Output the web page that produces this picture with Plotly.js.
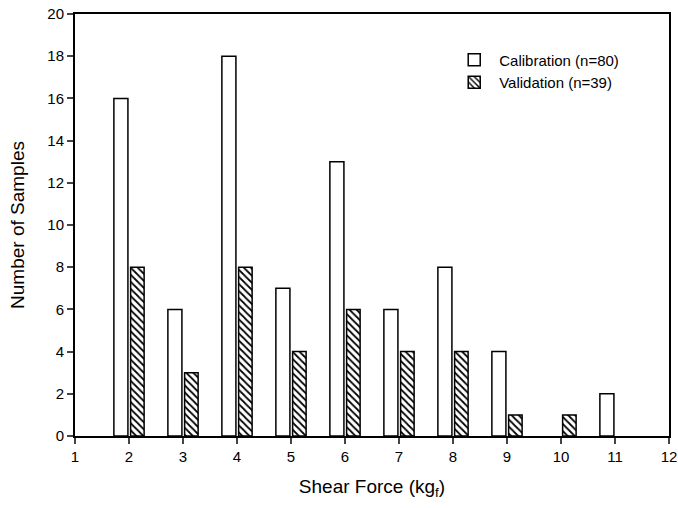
<!DOCTYPE html>
<html><head><meta charset="utf-8">
<script src="https://cdn.plot.ly/plotly-3.0.1.min.js"></script>
<style>body{margin:0;background:#fff}#c{width:678px;height:508px}</style>
</head><body><div id="c"></div>
<script>
const shearForce = [2, 3, 4, 5, 6, 7, 8, 9, 10, 11];
const calibration = [16, 6, 18, 7, 13, 6, 8, 4, 0, 2];
const validation = [8, 3, 8, 4, 6, 4, 4, 1, 1, 0];
const tickVals = [1,2,3,4,5,6,7,8,9,10,11,12];

const fontFam = 'Liberation Sans, Arial, sans-serif';
const lw = arr => arr.map(v => v === 0 ? 0 : 1.5);
const traces = [
  {type:'bar', name:'Calibration (n=80)', x:shearForce, y:calibration,
   width:0.26, offset:-0.28,
   marker:{color:'#ffffff', line:{color:'#000', width:lw(calibration)}}},
  {type:'bar', name:'Validation (n=39)', x:shearForce, y:validation,
   width:0.25, offset:0.03,
   marker:{color:'#ffffff', line:{color:'#000', width:lw(validation)},
     pattern:{shape:'\\', fgcolor:'#000', bgcolor:'#fff', size:5, solidity:0.35}}}
];
const layout = {
  width:678, height:508,
  margin:{l:75, r:9, t:14, b:72},
  paper_bgcolor:'#fff', plot_bgcolor:'#fff',
  font:{family:fontFam, color:'#000', size:15},
  showlegend:true,
  legend:{x:0.63, y:0.93, xanchor:'left', yanchor:'top', bgcolor:'rgba(0,0,0,0)',
          font:{size:15}, tracegroupgap:0, itemwidth:40},
  xaxis:{range:[1,12], tickvals:tickVals, ticks:'outside', ticklen:6, tickwidth:2,
         showline:true, linewidth:2, linecolor:'#000', mirror:true, showgrid:false, zeroline:false,
         title:{text:'Shear Force (kg<sub>f</sub>)', font:{size:19}, standoff:16}},
  yaxis:{range:[0,20], dtick:2, ticks:'outside', ticklen:6, tickwidth:2,
         showline:true, linewidth:2, linecolor:'#000', mirror:true, showgrid:false, zeroline:false,
         title:{text:'Number of Samples', font:{size:19}, standoff:18}},
  bargap:0
};
Plotly.newPlot('c', traces, layout, {displayModeBar:false, staticPlot:true});
</script></body></html>
